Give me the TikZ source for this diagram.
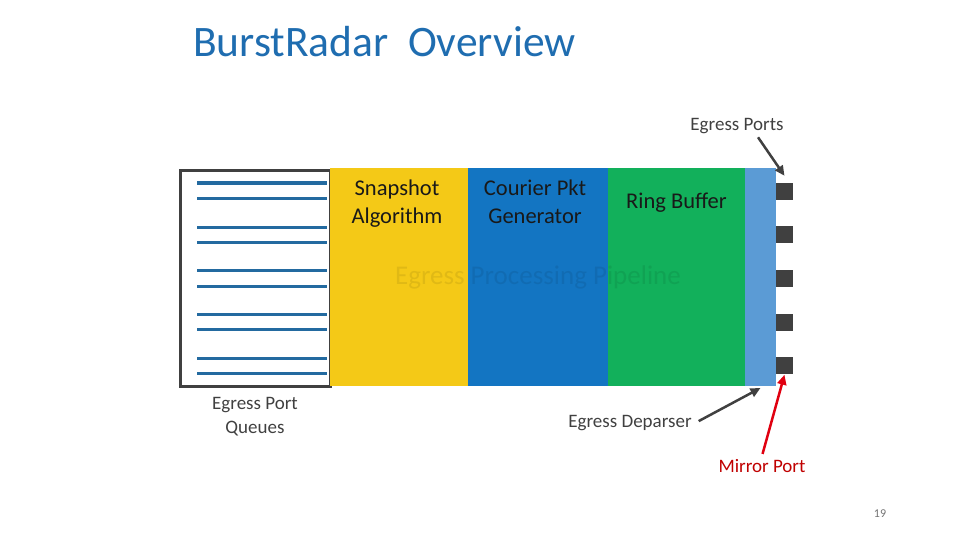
\documentclass[tikz,border=0pt]{standalone}
\usepackage{fontspec}
\setmainfont{Carlito}
\usetikzlibrary{arrows.meta,positioning}

\definecolor{titleblue}{HTML}{1F6DB0}
\definecolor{qblue}{HTML}{236AA0}
\definecolor{snapyellow}{HTML}{F4C917}
\definecolor{courierblue}{HTML}{1375C2}
\definecolor{ringgreen}{HTML}{12B05B}
\definecolor{deparblue}{HTML}{5B9BD5}
\definecolor{portgray}{HTML}{404040}
\definecolor{mirrorred}{HTML}{C00000}
\definecolor{arrowred}{HTML}{E00010}

\begin{document}
\begin{tikzpicture}[
  x=1pt, y=-1pt,
  stage/.style={inner sep=0pt, outer sep=0pt, minimum height=218pt},
  stagetext/.style={align=center, font=\fontsize{22.5}{28}\selectfont, text=black!90},
  port/.style={fill=portgray, minimum size=17pt, inner sep=0pt},
  qline/.style={qblue, line width=3pt},
  callout/.style={align=center, font=\fontsize{19}{24}\selectfont, text=portgray},
  pointer/.style={-{Triangle[length=10pt,width=9pt]}, line width=2.5pt, portgray}
]
\useasboundingbox (0,0) rectangle (960,540);

% title
\node[anchor=base west, inner sep=0pt, font=\fontsize{43.5}{48}\selectfont, text=titleblue] (title) at (193,57) {BurstRadar\ \ Overview};

% egress port queues
\node[draw=portgray, line width=3pt, minimum width=150pt, minimum height=215pt, inner sep=0pt, anchor=north west] (queues) at (178.5,169.5) {};
\foreach \y in {183,198,227,242,270,286,314,329,358,373}
  \draw[qline] (197,\y) -- (327,\y);
\node[callout, below=6pt of queues.south] (queuelbl) {Egress Port\\Queues};

% pipeline stages
\node[stage, fill=snapyellow, minimum width=138pt, anchor=north west] (snap) at (330,168) {};
\node[stage, fill=courierblue, minimum width=140pt, right=0pt of snap] (courier) {};
\node[stage, fill=ringgreen, minimum width=137pt, right=0pt of courier] (ring) {};
\node[stage, fill=deparblue, minimum width=31pt, right=0pt of ring] (deparser) {};

\node[stagetext, below=8pt of snap.north, xshift=-2pt] (snaplbl) {Snapshot\\Algorithm};
\node[stagetext, below=8pt of courier.north, xshift=-3pt] (courierlbl) {Courier Pkt\\Generator};
\node[stagetext, below=21pt of ring.north] (ringlbl) {Ring Buffer};
\node[font=\fontsize{27}{32}\selectfont, text=black, text opacity=0.08] (pipelbl) at (courier) {Egress Processing Pipeline};

% egress ports
\foreach \y [count=\i] in {191.5,234.5,278.5,322.5,365}
  \node[port] (port\i) at (784.5,\y) {};

% callouts
\node[callout] (portslbl) at (737,126) {Egress Ports};
\node[callout] (deparlbl) at (630,423) {Egress Deparser};
\node[callout, text=mirrorred] (mirrorlbl) at (762,466) {Mirror Port};
\node[font=\fontsize{12}{14}\selectfont, text=black!55] (pagenum) at (880,514) {19};

\draw[pointer] ([xshift=21pt]portslbl.south) -- ([yshift=7pt]port1.north);
\draw[pointer, shorten <=4pt] (deparlbl.east) -- ([yshift=-2pt]deparser.south);
\draw[pointer, arrowred, shorten <=2pt] (mirrorlbl.north) -- ([yshift=-1pt]port5.south);
\end{tikzpicture}
\end{document}
